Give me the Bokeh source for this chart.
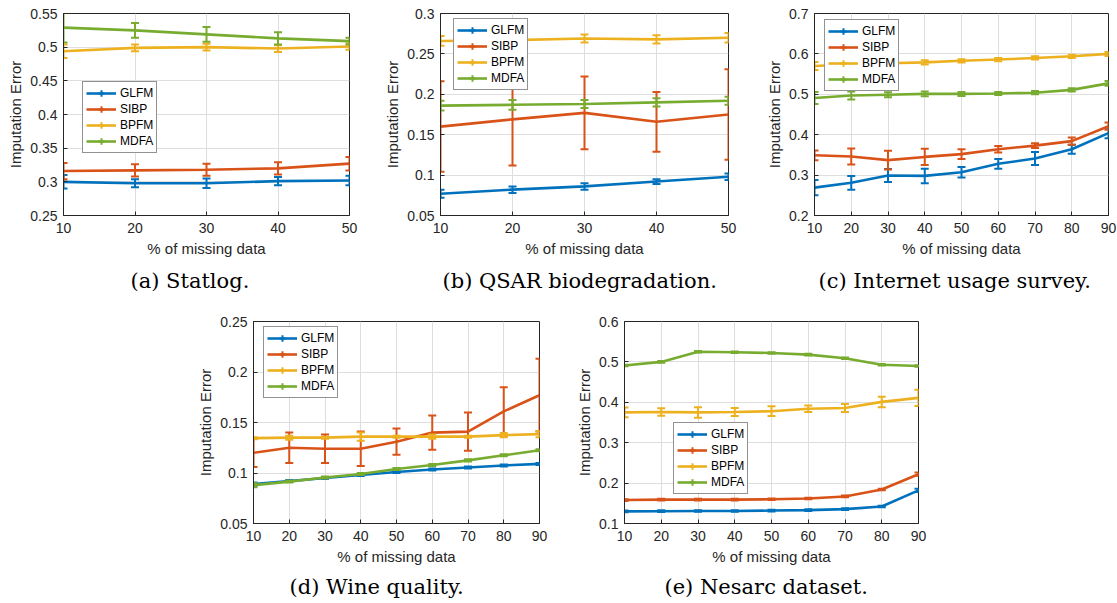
import numpy as np
from bokeh.plotting import figure
from bokeh.models import (ColumnDataSource, Range1d, FixedTicker, CustomJSTickFormatter,
                          Legend, LegendItem, Title, Spacer)
from bokeh.layouts import column, row
from bokeh.embed import file_html
from bokeh.resources import INLINE

methods = ["GLFM", "SIBP", "BPFM", "MDFA"]
colors = ["#0072BD", "#D95319", "#EDB120", "#77AC30"]

pct5 = [10, 20, 30, 40, 50]
pct9 = [10, 20, 30, 40, 50, 60, 70, 80, 90]

# (a) Statlog
glfm_a = [0.300, 0.298, 0.298, 0.301, 0.302]
glfm_a_err = [0.010, 0.006, 0.007, 0.006, 0.007]
sibp_a = [0.316, 0.317, 0.318, 0.320, 0.327]
sibp_a_err = [0.012, 0.009, 0.009, 0.009, 0.010]
bpfm_a = [0.494, 0.499, 0.500, 0.498, 0.501]
bpfm_a_err = [0.010, 0.005, 0.005, 0.005, 0.005]
mdfa_a = [0.529, 0.525, 0.519, 0.513, 0.509]
mdfa_a_err = [0.022, 0.011, 0.011, 0.009, 0.005]

# (b) QSAR biodegradation
glfm_b = [0.077, 0.082, 0.086, 0.092, 0.098]
glfm_b_err = [0.005, 0.004, 0.004, 0.003, 0.004]
sibp_b = [0.160, 0.169, 0.177, 0.166, 0.175]
sibp_b_err = [0.056, 0.057, 0.045, 0.037, 0.056]
bpfm_b = [0.266, 0.267, 0.269, 0.268, 0.270]
bpfm_b_err = [0.006, 0.005, 0.005, 0.005, 0.006]
mdfa_b = [0.186, 0.187, 0.188, 0.190, 0.192]
mdfa_b_err = [0.006, 0.006, 0.005, 0.005, 0.005]

# (c) Internet usage survey
glfm_c = [0.269, 0.281, 0.299, 0.298, 0.307, 0.328, 0.341, 0.364, 0.404]
glfm_c_err = [0.019, 0.017, 0.016, 0.018, 0.013, 0.012, 0.016, 0.011, 0.013]
sibp_c = [0.349, 0.346, 0.337, 0.345, 0.352, 0.364, 0.373, 0.384, 0.421]
sibp_c_err = [0.012, 0.020, 0.023, 0.020, 0.012, 0.008, 0.006, 0.009, 0.009]
bpfm_c = [0.570, 0.574, 0.577, 0.579, 0.583, 0.586, 0.590, 0.594, 0.600]
bpfm_c_err = [0.010, 0.005, 0.005, 0.005, 0.004, 0.004, 0.004, 0.004, 0.005]
mdfa_c = [0.491, 0.497, 0.499, 0.501, 0.501, 0.502, 0.504, 0.511, 0.527]
mdfa_c_err = [0.015, 0.010, 0.006, 0.006, 0.005, 0.004, 0.004, 0.004, 0.006]

# (d) Wine quality
glfm_d = [0.089, 0.092, 0.095, 0.098, 0.101, 0.1035, 0.1055, 0.1075, 0.109]
glfm_d_err = [0.0015, 0.001, 0.001, 0.001, 0.001, 0.001, 0.001, 0.001, 0.001]
sibp_d = [0.120, 0.125, 0.124, 0.124, 0.131, 0.140, 0.141, 0.161, 0.177]
sibp_d_err = [0.014, 0.015, 0.014, 0.017, 0.013, 0.017, 0.019, 0.024, 0.036]
bpfm_d = [0.1345, 0.135, 0.135, 0.136, 0.136, 0.136, 0.136, 0.1375, 0.1385]
bpfm_d_err = [0.001, 0.002, 0.001, 0.004, 0.001, 0.002, 0.001, 0.002, 0.003]
mdfa_d = [0.088, 0.0915, 0.0955, 0.099, 0.104, 0.108, 0.1125, 0.1175, 0.1225]
mdfa_d_err = [0.002, 0.001, 0.001, 0.001, 0.001, 0.001, 0.001, 0.001, 0.001]

# (e) Nesarc dataset
glfm_e = [0.130, 0.1305, 0.131, 0.131, 0.132, 0.133, 0.1355, 0.142, 0.182]
glfm_e_err = [0.002, 0.002, 0.002, 0.002, 0.002, 0.002, 0.002, 0.002, 0.004]
sibp_e = [0.158, 0.159, 0.159, 0.159, 0.160, 0.162, 0.167, 0.184, 0.222]
sibp_e_err = [0.002, 0.002, 0.002, 0.002, 0.002, 0.002, 0.002, 0.002, 0.004]
bpfm_e = [0.375, 0.376, 0.375, 0.376, 0.378, 0.384, 0.386, 0.401, 0.411]
bpfm_e_err = [0.012, 0.009, 0.013, 0.010, 0.012, 0.008, 0.010, 0.013, 0.020]
mdfa_e = [0.491, 0.500, 0.525, 0.524, 0.522, 0.518, 0.509, 0.493, 0.490]
mdfa_e_err = [0.002, 0.002, 0.002, 0.002, 0.002, 0.002, 0.002, 0.002, 0.002]

yticks_a = [0.25, 0.3, 0.35, 0.4, 0.45, 0.5, 0.55]
yticks_b = [0.05, 0.1, 0.15, 0.2, 0.25, 0.3]
yticks_c = [0.2, 0.3, 0.4, 0.5, 0.6, 0.7]
yticks_d = [0.05, 0.1, 0.15, 0.2, 0.25]
yticks_e = [0.1, 0.2, 0.3, 0.4, 0.5, 0.6]

captions = ["(a) Statlog.", "(b) QSAR biodegradation.", "(c) Internet usage survey.",
            "(d) Wine quality.", "(e) Nesarc dataset."]

AX = "#262626"
SANS = "Liberation Sans"


def make_panel(x, vals, errs, yticks, width, height, borders, leg_loc, caption,
               cap_offset, cap_standoff):
    left, right, top, bottom = borders
    p = figure(width=width, height=height, output_backend="svg", toolbar_location=None,
               x_range=Range1d(x[0], x[-1]), y_range=Range1d(yticks[0], yticks[-1]),
               min_border_left=left, min_border_right=right,
               min_border_top=top, min_border_bottom=bottom,
               background_fill_color="white", border_fill_color="white")
    p.outline_line_color = AX
    p.outline_line_width = 1
    p.outline_line_alpha = 1
    for ax in (p.xaxis[0], p.yaxis[0]):
        ax.axis_line_color = AX
        ax.major_tick_line_color = AX
        ax.major_tick_in = 4
        ax.major_tick_out = 0
        ax.minor_tick_line_color = None
        ax.major_label_text_font = SANS
        ax.major_label_text_font_size = "14px"
        ax.major_label_text_color = AX
        ax.axis_label_text_font = SANS
        ax.axis_label_text_font_size = "15px"
        ax.axis_label_text_font_style = "normal"
        ax.axis_label_text_color = AX
    p.xaxis.ticker = FixedTicker(ticks=x)
    p.yaxis.ticker = FixedTicker(ticks=yticks)
    p.yaxis.formatter = CustomJSTickFormatter(
        code="return tick.toFixed(2).replace(/0+$/, '').replace(/\\.$/, '');")
    p.xaxis.axis_label = "% of missing data"
    p.yaxis.axis_label = "Imputation Error"
    p.xaxis.major_label_standoff = 7
    p.xaxis.axis_label_standoff = 4
    p.yaxis.major_label_standoff = 6
    p.yaxis.axis_label_standoff = 3
    p.grid.grid_line_color = "#dedede"
    p.grid.grid_line_width = 1

    items = []
    for name, col, v, e in zip(methods, colors, vals, errs):
        v = np.array(v, dtype=float)
        e = np.array(e, dtype=float)
        src = ColumnDataSource(dict(x=x, y=v, lo=v - e, hi=v + e))
        p.segment(x0="x", y0="lo", x1="x", y1="hi", source=src,
                  line_color=col, line_width=2)
        p.scatter(x="x", y="lo", source=src, marker="dash", size=8,
                  line_color=col, line_width=2)
        p.scatter(x="x", y="hi", source=src, marker="dash", size=8,
                  line_color=col, line_width=2)
        ln = p.line(x="x", y="y", source=src, line_color=col, line_width=2.6)
        # legend-only proxy (no drawable data): gives the legend icon its error-bar tick
        proxy = p.scatter(x=[np.nan], y=[np.nan], marker="cross",
                          line_color=col, line_width=2)
        items.append(LegendItem(label=name, renderers=[ln, proxy]))

    leg = Legend(items=items, location=leg_loc, orientation="vertical",
                 label_text_font=SANS, label_text_font_size="12px",
                 label_text_color="black", glyph_width=30, glyph_height=16,
                 label_height=14, label_standoff=4, spacing=0, padding=3, margin=0,
                 border_line_color=AX, border_line_width=1,
                 background_fill_color="white", background_fill_alpha=1)
    p.add_layout(leg, "center")

    p.add_layout(Title(text=caption, align="left", offset=cap_offset,
                       text_font="DejaVu Serif", text_font_size="21px",
                       text_font_style="normal", text_color="black",
                       standoff=cap_standoff), "below")
    return p


pa = make_panel(pct5, [glfm_a, sibp_a, bpfm_a, mdfa_a],
                [glfm_a_err, sibp_a_err, bpfm_a_err, mdfa_a_err], yticks_a,
                372, 300, (63, 23, 13, 85), (19, 62), captions[0], 67, 14)
pb = make_panel(pct5, [glfm_b, sibp_b, bpfm_b, mdfa_b],
                [glfm_b_err, sibp_b_err, bpfm_b_err, mdfa_b_err], yticks_b,
                372, 300, (68, 16, 13, 85), (13, 125), captions[1], 2, 14)
pc = make_panel(pct9, [glfm_c, sibp_c, bpfm_c, mdfa_c],
                [glfm_c_err, sibp_c_err, bpfm_c_err, mdfa_c_err], yticks_c,
                373, 300, (70, 9, 13, 85), (10, 124), captions[2], 4, 14)
pd = make_panel(pct9, [glfm_d, sibp_d, bpfm_d, mdfa_d],
                [glfm_d_err, sibp_d_err, bpfm_d_err, mdfa_d_err], yticks_d,
                365, 303, (63, 16, 21, 80), (10, 125), captions[3], 36, 10)
pe = make_panel(pct9, [glfm_e, sibp_e, bpfm_e, mdfa_e],
                [glfm_e_err, sibp_e_err, bpfm_e_err, mdfa_e_err], yticks_e,
                375, 303, (69, 12, 21, 80), (49, 29), captions[4], 40, 10)

layout = column(row(pa, pb, pc), row(Spacer(width=190, height=303), pd, pe))

open("out.html", "w").write(file_html(layout, INLINE))
